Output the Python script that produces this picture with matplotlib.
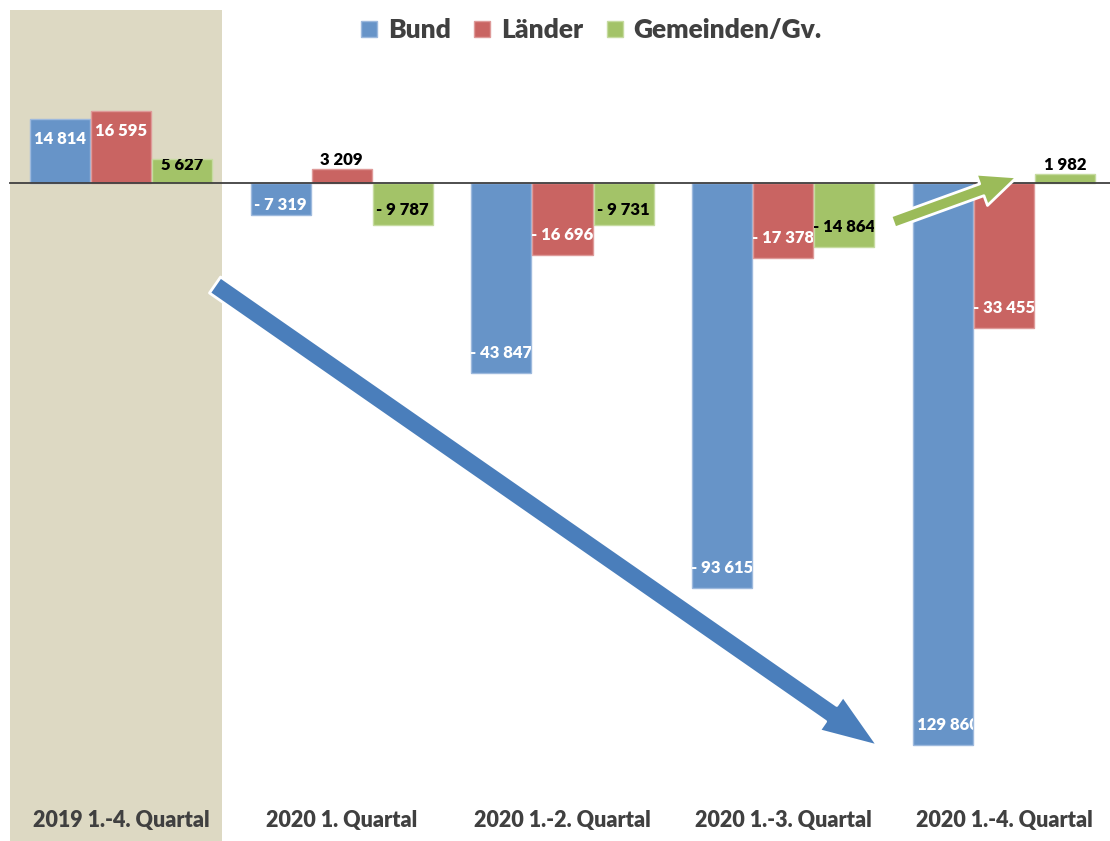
import matplotlib
matplotlib.use("Agg")
import matplotlib.pyplot as plt
from matplotlib.lines import Line2D
from matplotlib.patches import Rectangle

categories = [
    "2019 1.-4. Quartal",
    "2020 1. Quartal",
    "2020 1.-2. Quartal",
    "2020 1.-3. Quartal",
    "2020 1.-4. Quartal",
]
series_names = ["Bund", "Länder", "Gemeinden/Gv."]
bund = [14814, -7319, -43847, -93615, -129860]
laender = [16595, 3209, -16696, -17378, -33455]
gemeinden = [5627, -9787, -9731, -14864, 1982]

COLORS = ["#6794C8", "#C96462", "#A3C368"]
EDGES = ["#9DB9DD", "#DE9A99", "#C6DBA0"]
LABEL_COLORS = ["white", "white", "black"]
TEXT_DARK = "#404040"
HIGHLIGHT = "#DDD9C3"

plt.rcParams["font.family"] = ["Lato", "DejaVu Sans"]

fig = plt.figure(figsize=(11.1, 8.41), dpi=100)
ax = fig.add_axes([0, 0, 1, 1])
ax.set_xlim(-0.548, 4.480)
ax.set_ylim(-152033, 42283)
ax.axis("off")

# pixels per value unit (vertical) for label offsets
px_per_unit = 841 / (42283 + 152033)

ax.add_patch(Rectangle((-0.503, -152033), 0.9605, 152033 + 39972,
                       facecolor=HIGHLIGHT, edgecolor="none", zorder=0))

bar_w = 0.272
step = 0.2765
all_series = [bund, laender, gemeinden]
for k, values in enumerate(all_series):
    xs = [i + (k - 1) * step for i in range(len(categories))]
    bars = ax.bar(xs, values, width=bar_w, color=COLORS[k], edgecolor=EDGES[k],
                  linewidth=1, zorder=2)
    for bar, x, v in zip(bars, xs, values):
        h_px = abs(v) * px_per_unit
        txt = f"{abs(v):,}".replace(",", " ")
        if v < 0:
            txt = "- " + txt
        if h_px < 15:
            # small bar: label outside above
            ax.annotate(txt, (x, v), xytext=(0, 9), textcoords="offset pixels",
                        ha="center", va="center", fontsize=12, fontweight="heavy",
                        color="black", zorder=5)
            continue
        off = min(20, h_px / 2 - 6)
        sign = -1 if v > 0 else 1
        t = ax.annotate(txt, (x, v), xytext=(0, sign * off), textcoords="offset pixels",
                        ha="center", va="center", fontsize=12, fontweight="heavy",
                        color=LABEL_COLORS[k], zorder=5)
        t.set_clip_path(bar)

ax.axhline(0, xmin=10 / 1110, xmax=1, color=TEXT_DARK, linewidth=1.3, zorder=3)

for i, cat in enumerate(categories):
    ax.text(i, 1 - 821 / 841, cat, transform=ax.get_xaxis_transform(),
            ha="center", va="center", fontsize=15.5, fontweight="heavy", color=TEXT_DARK)

# trend arrows
ax.annotate("", xy=(3.429, -130083), xytext=(0.426, -23567),
            arrowprops=dict(arrowstyle="simple,head_length=4.1,head_width=3.0,tail_width=1.4",
                            mutation_scale=10, facecolor="#4A7EBB", edgecolor="white",
                            linewidth=2, shrinkA=0, shrinkB=0),
            zorder=6)
ax.annotate("", xy=(4.059, 1386), xytext=(3.497, -9011),
            arrowprops=dict(arrowstyle="simple,head_length=2.7,head_width=2.4,tail_width=0.9",
                            mutation_scale=10, facecolor="#9BBB59", edgecolor="white",
                            linewidth=2, shrinkA=0, shrinkB=0),
            zorder=6)

handles = [Line2D([], [], marker="s", linestyle="none", markersize=12,
                  markerfacecolor=c, markeredgecolor=e, markeredgewidth=1)
           for c, e in zip(COLORS, EDGES)]
leg = fig.legend(handles, series_names, loc="center", bbox_to_anchor=(590 / 1110, 1 - 30 / 841),
                 ncol=3, frameon=False, handlelength=0.8, handletextpad=0.3,
                 columnspacing=0.8, prop={"size": 19, "weight": "heavy"})
for t in leg.get_texts():
    t.set_color(TEXT_DARK)

fig.savefig("out.png", dpi=100)
